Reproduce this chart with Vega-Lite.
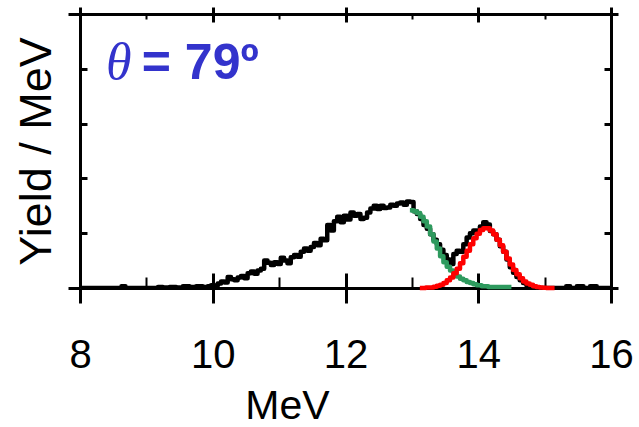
{
  "$schema": "https://vega.github.io/schema/vega-lite/v6.json",
  "autosize": "none",
  "width": 531,
  "height": 274,
  "padding": {"left": 80, "top": 14, "right": 28, "bottom": 139},
  "background": "white",
  "config": {"font": "Liberation Sans", "view": {"stroke": null}},
  "datasets": {
    "measured": [
      {"E": 8.0, "Y": 0}, {"E": 8.6, "Y": 0}, {"E": 8.65, "Y": 0.03}, {"E": 8.72, "Y": 0},
      {"E": 9.15, "Y": 0}, {"E": 9.2, "Y": 0.02}, {"E": 9.3, "Y": 0.01}, {"E": 9.4, "Y": 0.02},
      {"E": 9.5, "Y": 0.01}, {"E": 9.6, "Y": 0.03}, {"E": 9.7, "Y": 0.02}, {"E": 9.8, "Y": 0.03},
      {"E": 9.9, "Y": 0.02}, {"E": 9.95, "Y": 0.03},
      {"E": 10.0, "Y": 0.05}, {"E": 10.05, "Y": 0.04}, {"E": 10.1, "Y": 0.08}, {"E": 10.15, "Y": 0.12},
      {"E": 10.2, "Y": 0.10}, {"E": 10.25, "Y": 0.20}, {"E": 10.3, "Y": 0.16}, {"E": 10.35, "Y": 0.14},
      {"E": 10.4, "Y": 0.19}, {"E": 10.45, "Y": 0.22}, {"E": 10.5, "Y": 0.18}, {"E": 10.55, "Y": 0.27},
      {"E": 10.6, "Y": 0.30}, {"E": 10.65, "Y": 0.26}, {"E": 10.7, "Y": 0.32}, {"E": 10.75, "Y": 0.35},
      {"E": 10.8, "Y": 0.50}, {"E": 10.85, "Y": 0.46}, {"E": 10.9, "Y": 0.42}, {"E": 10.95, "Y": 0.47},
      {"E": 11.0, "Y": 0.44}, {"E": 11.05, "Y": 0.55}, {"E": 11.1, "Y": 0.50}, {"E": 11.15, "Y": 0.45},
      {"E": 11.2, "Y": 0.56}, {"E": 11.25, "Y": 0.60}, {"E": 11.3, "Y": 0.57}, {"E": 11.35, "Y": 0.66},
      {"E": 11.4, "Y": 0.72}, {"E": 11.45, "Y": 0.68}, {"E": 11.5, "Y": 0.75}, {"E": 11.55, "Y": 0.82},
      {"E": 11.6, "Y": 0.78}, {"E": 11.65, "Y": 0.90}, {"E": 11.7, "Y": 0.87}, {"E": 11.75, "Y": 1.15},
      {"E": 11.8, "Y": 1.05}, {"E": 11.85, "Y": 1.22}, {"E": 11.9, "Y": 1.30}, {"E": 11.95, "Y": 1.20},
      {"E": 12.0, "Y": 1.32}, {"E": 12.05, "Y": 1.25}, {"E": 12.1, "Y": 1.38}, {"E": 12.15, "Y": 1.32},
      {"E": 12.2, "Y": 1.35}, {"E": 12.25, "Y": 1.26}, {"E": 12.3, "Y": 1.28}, {"E": 12.35, "Y": 1.38},
      {"E": 12.4, "Y": 1.45}, {"E": 12.45, "Y": 1.50}, {"E": 12.5, "Y": 1.44}, {"E": 12.55, "Y": 1.50},
      {"E": 12.6, "Y": 1.46}, {"E": 12.65, "Y": 1.47}, {"E": 12.7, "Y": 1.52}, {"E": 12.75, "Y": 1.50},
      {"E": 12.8, "Y": 1.54}, {"E": 12.85, "Y": 1.56}, {"E": 12.9, "Y": 1.52}, {"E": 12.95, "Y": 1.58},
      {"E": 13.0, "Y": 1.57}, {"E": 13.05, "Y": 1.40}, {"E": 13.1, "Y": 1.35}, {"E": 13.15, "Y": 1.26},
      {"E": 13.2, "Y": 1.15}, {"E": 13.25, "Y": 1.08}, {"E": 13.3, "Y": 0.98}, {"E": 13.35, "Y": 0.88},
      {"E": 13.4, "Y": 0.80}, {"E": 13.45, "Y": 0.70}, {"E": 13.5, "Y": 0.60}, {"E": 13.55, "Y": 0.52},
      {"E": 13.6, "Y": 0.44}, {"E": 13.65, "Y": 0.62}, {"E": 13.7, "Y": 0.68}, {"E": 13.75, "Y": 0.66},
      {"E": 13.8, "Y": 0.80}, {"E": 13.85, "Y": 0.92}, {"E": 13.9, "Y": 1.00}, {"E": 13.95, "Y": 1.05},
      {"E": 14.0, "Y": 1.02}, {"E": 14.05, "Y": 1.12}, {"E": 14.1, "Y": 1.20}, {"E": 14.15, "Y": 1.16},
      {"E": 14.2, "Y": 1.04}, {"E": 14.25, "Y": 0.98}, {"E": 14.3, "Y": 0.88}, {"E": 14.35, "Y": 0.76},
      {"E": 14.4, "Y": 0.66}, {"E": 14.45, "Y": 0.52}, {"E": 14.5, "Y": 0.38}, {"E": 14.55, "Y": 0.28},
      {"E": 14.6, "Y": 0.20}, {"E": 14.65, "Y": 0.14}, {"E": 14.7, "Y": 0.09}, {"E": 14.75, "Y": 0.05},
      {"E": 14.8, "Y": 0.03}, {"E": 14.85, "Y": 0.02}, {"E": 14.9, "Y": 0}, {"E": 15.3, "Y": 0},
      {"E": 15.35, "Y": 0.03}, {"E": 15.42, "Y": 0}, {"E": 15.55, "Y": 0.03}, {"E": 15.62, "Y": 0},
      {"E": 15.75, "Y": 0.03}, {"E": 15.82, "Y": 0}, {"E": 16.0, "Y": 0}
    ],
    "tail": [
      {"E": 12.97, "Y": 1.42}, {"E": 13.0, "Y": 1.42}, {"E": 13.05, "Y": 1.40}, {"E": 13.1, "Y": 1.37},
      {"E": 13.15, "Y": 1.30}, {"E": 13.2, "Y": 1.22}, {"E": 13.25, "Y": 1.12}, {"E": 13.3, "Y": 0.98},
      {"E": 13.35, "Y": 0.85}, {"E": 13.4, "Y": 0.72}, {"E": 13.45, "Y": 0.58}, {"E": 13.5, "Y": 0.47},
      {"E": 13.55, "Y": 0.39}, {"E": 13.6, "Y": 0.32}, {"E": 13.65, "Y": 0.26}, {"E": 13.7, "Y": 0.21},
      {"E": 13.75, "Y": 0.17}, {"E": 13.8, "Y": 0.14}, {"E": 13.85, "Y": 0.11}, {"E": 13.9, "Y": 0.09},
      {"E": 13.95, "Y": 0.07}, {"E": 14.0, "Y": 0.05}, {"E": 14.1, "Y": 0.03}, {"E": 14.2, "Y": 0.02},
      {"E": 14.5, "Y": 0.02}
    ],
    "peak": [
      {"E": 13.12, "Y": 0}, {"E": 13.3, "Y": 0.01}, {"E": 13.35, "Y": 0.025}, {"E": 13.4, "Y": 0.04},
      {"E": 13.45, "Y": 0.06}, {"E": 13.5, "Y": 0.09}, {"E": 13.55, "Y": 0.14}, {"E": 13.6, "Y": 0.19},
      {"E": 13.65, "Y": 0.27}, {"E": 13.7, "Y": 0.35}, {"E": 13.75, "Y": 0.45}, {"E": 13.8, "Y": 0.57},
      {"E": 13.85, "Y": 0.68}, {"E": 13.9, "Y": 0.80}, {"E": 13.95, "Y": 0.91}, {"E": 14.0, "Y": 0.99},
      {"E": 14.05, "Y": 1.06}, {"E": 14.1, "Y": 1.09}, {"E": 14.15, "Y": 1.09}, {"E": 14.2, "Y": 1.05},
      {"E": 14.25, "Y": 0.98}, {"E": 14.3, "Y": 0.88}, {"E": 14.35, "Y": 0.78}, {"E": 14.4, "Y": 0.66},
      {"E": 14.45, "Y": 0.54}, {"E": 14.5, "Y": 0.43}, {"E": 14.55, "Y": 0.33}, {"E": 14.6, "Y": 0.25},
      {"E": 14.65, "Y": 0.18}, {"E": 14.7, "Y": 0.12}, {"E": 14.75, "Y": 0.08}, {"E": 14.8, "Y": 0.06},
      {"E": 14.85, "Y": 0.03}, {"E": 14.9, "Y": 0.02}, {"E": 14.95, "Y": 0.01}, {"E": 15.0, "Y": 0.005},
      {"E": 15.05, "Y": 0}, {"E": 15.15, "Y": 0}
    ],
    "annotation": [
      {"symbol": "θ", "rest": "= 79º"}
    ]
  },
  "layer": [
    {
      "data": {"name": "measured"},
      "mark": {"type": "line", "interpolate": "step", "color": "black", "strokeWidth": 4.5, "strokeJoin": "round", "strokeCap": "round", "clip": true},
      "encoding": {
        "x": {
          "field": "E", "type": "quantitative",
          "scale": {"domain": [8, 16], "nice": false, "zero": false},
          "axis": {
            "orient": "bottom", "values": [8, 10, 12, 14, 16], "tickSize": 15, "tickWidth": 3,
            "tickColor": "black", "domainColor": "black", "domainWidth": 3, "grid": false,
            "labelFontSize": 40, "labelFont": "Liberation Sans", "labelColor": "black", "labelPadding": 32,
            "labelFlush": false, "labelOverlap": false,
            "title": "MeV", "titleFontSize": 41, "titleFont": "Liberation Sans", "titleFontWeight": "normal",
            "titleColor": "black", "titleX": 207, "titleY": 130, "titleBaseline": "alphabetic", "titleAlign": "center"
          }
        },
        "y": {
          "field": "Y", "type": "quantitative",
          "scale": {"domain": [0, 5], "nice": false, "zero": false},
          "axis": {
            "orient": "left", "values": [0, 1, 2, 3, 4, 5], "labels": false, "grid": false,
            "tickSize": {"condition": {"test": "datum.value === 0 || datum.value === 5", "value": 12}, "value": -7},
            "tickWidth": 3, "tickColor": "black", "domainColor": "black", "domainWidth": 3,
            "title": "Yield / MeV", "titleFontSize": 45, "titleFont": "Liberation Sans", "titleFontWeight": "normal",
            "titleColor": "black", "titleAngle": -90, "titleX": -30, "titleY": 137,
            "titleBaseline": "alphabetic", "titleAlign": "center"
          }
        }
      }
    },
    {
      "data": {"name": "tail"},
      "mark": {"type": "line", "interpolate": "step", "color": "#2E9A5E", "strokeWidth": 4.5, "strokeJoin": "round"},
      "encoding": {
        "x": {
          "field": "E", "type": "quantitative",
          "scale": {"domain": [8, 16], "nice": false, "zero": false},
          "axis": {
            "orient": "bottom", "values": [8, 9, 10, 11, 12, 13, 14, 15, 16], "labels": false, "domain": false,
            "grid": false, "title": null, "tickColor": "black",
            "tickSize": {"condition": {"test": "datum.value % 2 === 0", "value": -15}, "value": -11},
            "tickWidth": {"condition": {"test": "datum.value % 2 === 0", "value": 3}, "value": 2}
          }
        },
        "y": {
          "field": "Y", "type": "quantitative",
          "scale": {"domain": [0, 5], "nice": false, "zero": false},
          "axis": {
            "orient": "right", "values": [0, 1, 2, 3, 4, 5], "labels": false, "grid": false, "title": null,
            "tickSize": {"condition": {"test": "datum.value === 0 || datum.value === 5", "value": 7}, "value": -7},
            "tickWidth": 3, "tickColor": "black", "domainColor": "black", "domainWidth": 3
          }
        }
      }
    },
    {
      "data": {"name": "peak"},
      "mark": {"type": "line", "interpolate": "step", "color": "#FF0000", "strokeWidth": 4.5, "strokeJoin": "round"},
      "encoding": {
        "x": {
          "field": "E", "type": "quantitative",
          "scale": {"domain": [8, 16], "nice": false, "zero": false},
          "axis": {
            "orient": "top", "values": [8, 9, 10, 11, 12, 13, 14, 15, 16], "labels": false, "grid": false,
            "title": null, "tickColor": "black", "domainColor": "black", "domainWidth": 3,
            "tickSize": {"condition": {"test": "datum.value % 2 === 0", "value": -8}, "value": -5},
            "tickWidth": {"condition": {"test": "datum.value % 2 === 0", "value": 3}, "value": 2}
          }
        },
        "y": {
          "field": "Y", "type": "quantitative",
          "scale": {"domain": [0, 5], "nice": false, "zero": false},
          "axis": null
        }
      }
    },
    {
      "data": {"name": "annotation"},
      "mark": {"type": "text", "font": "Liberation Serif", "fontStyle": "italic", "fontSize": 52,
               "color": "#3333CC", "align": "left", "baseline": "alphabetic"},
      "encoding": {
        "text": {"field": "symbol"},
        "x": {
          "datum": 8.39, "type": "quantitative",
          "scale": {"domain": [8, 16], "nice": false, "zero": false},
          "axis": {
            "orient": "top", "values": [8, 10, 12, 14, 16], "labels": false, "domain": false, "grid": false,
            "title": null, "tickColor": "black", "tickSize": 7, "tickWidth": 3
          }
        },
        "y": {"datum": 3.81, "type": "quantitative", "scale": {"domain": [0, 5], "nice": false, "zero": false}, "axis": null}
      }
    },
    {
      "data": {"name": "annotation"},
      "mark": {"type": "text", "font": "Liberation Sans", "fontWeight": "bold", "fontSize": 50,
               "color": "#3333CC", "align": "left", "baseline": "alphabetic"},
      "encoding": {
        "text": {"field": "rest"},
        "x": {"datum": 8.93, "type": "quantitative", "scale": {"domain": [8, 16], "nice": false, "zero": false}, "axis": null},
        "y": {"datum": 3.81, "type": "quantitative", "scale": {"domain": [0, 5], "nice": false, "zero": false}, "axis": null}
      }
    }
  ],
  "resolve": {"axis": {"x": "independent", "y": "independent"}}
}
